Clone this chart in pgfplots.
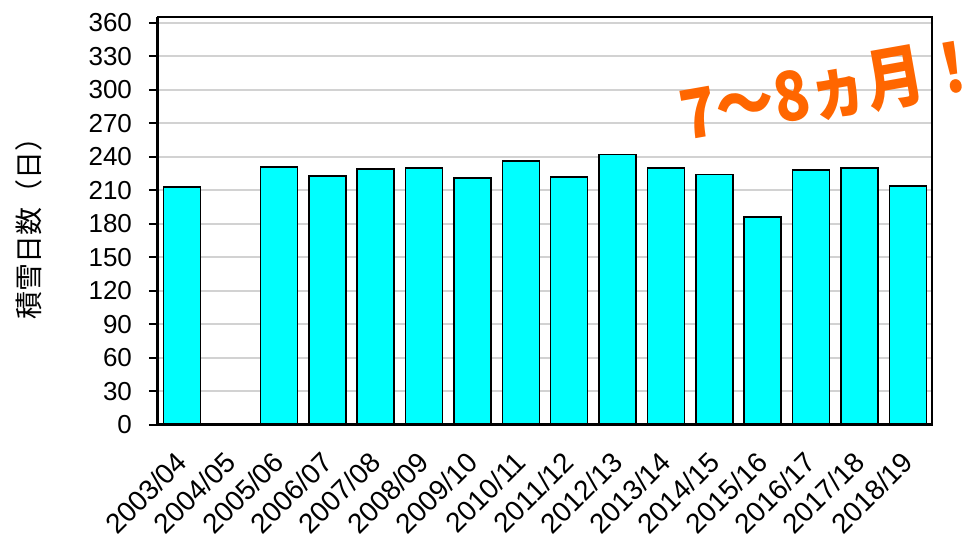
\documentclass[border=0pt]{standalone}
\usepackage{fontspec}
\setmainfont{Liberation Sans}
\newfontfamily\cjk{Noto Sans CJK JP}
\usepackage{pgfplots}
\pgfplotsset{compat=1.18}
\definecolor{barcyan}{RGB}{0,255,255}
\definecolor{gridgray}{RGB}{210,210,210}
\definecolor{annot}{RGB}{255,102,0}
\begin{document}
\begin{tikzpicture}
\useasboundingbox (-79pt,-58pt) rectangle (403.5pt,212.5pt);
\begin{axis}[
  at={(0pt,0pt)}, anchor=south west,
  width=387pt, height=204pt, scale only axis,
  xmin=-0.5, xmax=15.5, ymin=0, ymax=365,
  ytick={0,30,...,360},
  xtick={0,...,15},
  xticklabels={2003/04,2004/05,2005/06,2006/07,2007/08,2008/09,2009/10,2010/11,2011/12,2012/13,2013/14,2014/15,2015/16,2016/17,2017/18,2018/19},
  x tick label style={rotate=45, anchor=east, inner sep=0pt, xshift=-8pt, yshift=-8pt, font=\fontsize{14}{15}\selectfont},
  y tick label style={font=\fontsize{13}{14}\selectfont, xshift=-5pt},
  /pgf/number format/assume math mode=true,
  ymajorgrids, grid style={gridgray, line width=1pt},
  axis line style={line width=0.8pt},
  ytick pos=left, xtick pos=bottom,
  ytick style={black, line width=1pt},
  major tick length=4.5pt,
  xtick style={draw=none},
  tick align=outside,
  ylabel={\cjk 積雪日数（日）},
  ylabel style={font=\fontsize{14}{15}\selectfont, at={(axis description cs:-0.167,0.5)}, anchor=center},
  clip=false,
]
\addplot[ybar, bar width=18.5pt, fill=barcyan, draw=black, line width=0.8pt] coordinates {
(0,213) (2,231) (3,223) (4,229) (5,230) (6,221) (7,236) (8,222) (9,242) (10,230) (11,224) (12,186) (13,228) (14,230) (15,214)
};
\draw[black, line width=1.5pt] (axis cs:-0.5,0) -- (axis cs:15.5,0);
\draw[black, line width=1.5pt] (axis cs:-0.5,0) -- (axis cs:-0.5,365);
\node[rotate=10, xscale=0.86, text=annot, font=\cjk\bfseries\fontsize{34}{35}\selectfont] at (axis cs:13.42,300) {7〜8ヵ月！};
\end{axis}
\end{tikzpicture}
\end{document}
